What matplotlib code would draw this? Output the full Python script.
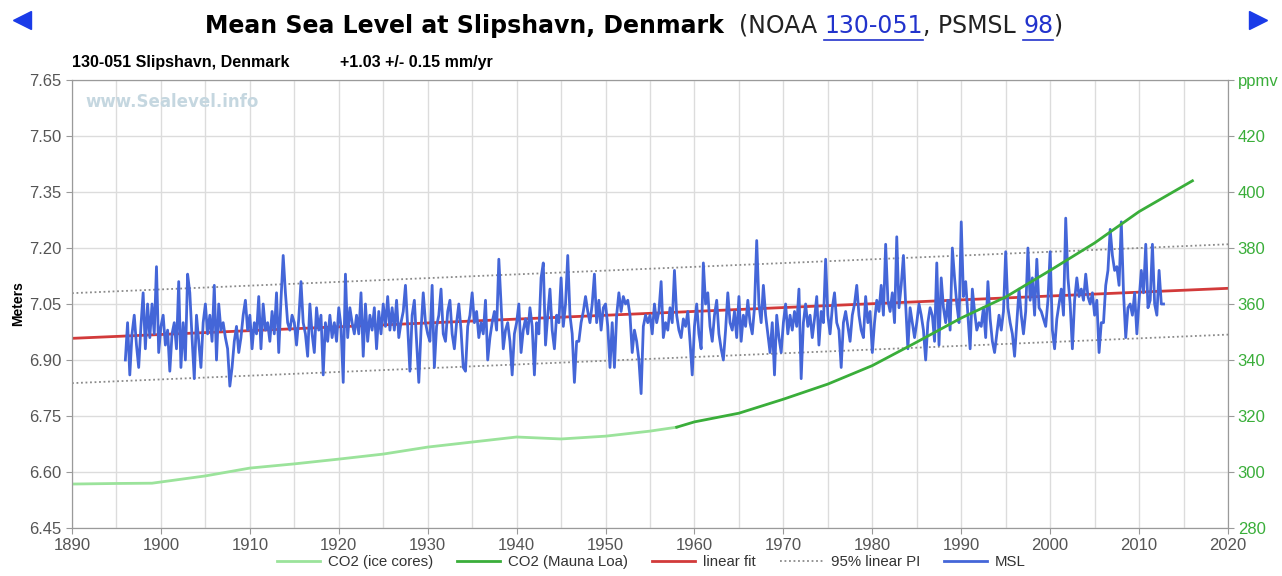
import matplotlib
matplotlib.use("Agg")
import matplotlib.pyplot as plt
from matplotlib.lines import Line2D
import numpy as np

# --- data ---
msl_start = 1896.0  # quarterly values, metres
msl = [
    6.90, 7.00, 6.86, 6.97,  7.02, 6.94, 6.88, 6.99,  7.08, 6.93, 7.05, 6.96,  # 1896-98
    7.05, 6.97, 7.15, 6.92,  6.99, 7.02, 6.94, 6.98,  6.87, 6.97, 7.00, 6.93,  # 1899-01
    7.11, 6.88, 7.00, 6.90,  7.13, 7.08, 6.96, 6.85,  7.02, 6.95, 6.88, 7.00,  # 1902-04
    7.05, 6.97, 7.02, 6.95,  7.10, 6.90, 7.05, 6.98,  7.00, 6.96, 6.93, 6.83,  # 1905-07
    6.88, 6.95, 6.99, 6.92,  6.96, 7.02, 7.06, 6.98,  7.02, 6.93, 7.00, 6.97,  # 1908-10
    7.07, 6.93, 7.05, 6.98,  7.00, 6.95, 7.03, 6.97,  7.08, 6.92, 7.06, 7.18,  # 1911-13
    7.08, 7.00, 6.98, 7.02,  7.00, 6.94, 7.01, 7.11,  7.00, 6.97, 6.91, 7.05,  # 1914-16
    6.97, 6.92, 7.04, 6.98,  7.02, 6.86, 7.00, 6.95,  7.02, 6.96, 7.00, 6.95,  # 1917-19
    7.04, 6.99, 6.84, 7.13,  6.96, 7.04, 7.00, 6.97,  7.02, 6.97, 7.08, 6.91,  # 1920-22
    7.05, 6.95, 7.02, 6.98,  7.04, 6.93, 7.03, 6.97,  7.05, 6.99, 7.07, 6.98,  # 1923-25
    7.04, 6.98, 7.06, 6.96,  7.00, 7.03, 7.10, 6.99,  6.87, 7.02, 7.06, 6.95,  # 1926-28
    6.84, 6.98, 7.08, 7.00,  6.97, 6.95, 7.10, 6.88,  6.99, 7.02, 7.09, 6.97,  # 1929-31
    6.95, 7.03, 7.06, 6.97,  6.93, 7.00, 7.05, 6.98,  6.88, 6.87, 6.99, 7.02,  # 1932-34
    7.08, 7.00, 7.03, 6.96,  7.00, 6.97, 7.06, 6.90,  6.96, 7.00, 7.03, 6.98,  # 1935-37
    7.17, 7.05, 6.93, 6.98,  7.00, 6.95, 6.86, 6.97,  7.00, 7.05, 6.92, 6.98,  # 1938-40
    7.01, 6.97, 7.04, 6.99,  6.86, 7.00, 6.97, 7.12,  7.16, 6.94, 7.02, 7.09,  # 1941-43
    6.98, 6.93, 7.02, 7.00,  7.12, 6.99, 7.05, 7.18,  7.02, 6.97, 6.84, 6.95,  # 1944-46
    6.95, 7.00, 7.03, 7.07,  7.03, 7.00, 7.05, 7.13,  7.00, 7.06, 6.98, 7.04,  # 1947-49
    7.05, 6.99, 6.88, 7.00,  6.88, 7.02, 7.08, 7.03,  7.07, 7.05, 7.06, 7.02,  # 1950-52
    6.92, 6.98, 6.95, 6.90,  6.81, 6.99, 7.02, 7.00,  7.02, 6.97, 7.05, 7.00,  # 1953-55
    7.03, 7.11, 6.96, 7.00,  6.98, 7.04, 7.00, 7.14,  7.02, 6.98, 6.96, 7.01,  # 1956-58
    6.99, 7.03, 6.95, 6.86,  6.99, 7.05, 6.97, 6.93,  7.16, 7.05, 7.08, 6.99,  # 1959-61
    6.95, 7.02, 7.06, 6.97,  6.93, 6.90, 6.98, 7.08,  7.00, 6.98, 7.03, 6.96,  # 1962-64
    7.07, 6.95, 7.02, 6.99,  7.06, 7.00, 6.97, 7.04,  7.22, 7.05, 7.00, 7.10,  # 1965-67
    7.02, 6.97, 6.92, 7.00,  6.86, 7.02, 6.96, 6.92,  7.00, 7.05, 6.97, 7.02,  # 1968-70
    6.98, 7.03, 6.99, 7.09,  6.85, 7.00, 7.05, 6.99,  7.02, 6.96, 7.01, 7.07,  # 1971-73
    6.94, 7.03, 7.00, 7.17,  7.02, 6.97, 7.04, 7.08,  7.00, 6.98, 6.88, 7.00,  # 1974-76
    7.03, 6.99, 6.95, 7.02,  7.05, 7.10, 7.02, 6.98,  6.96, 7.07, 7.00, 7.03,  # 1977-79
    6.92, 7.00, 7.06, 7.03,  7.10, 7.02, 7.21, 7.06,  7.03, 7.08, 7.00, 7.23,  # 1980-82
    7.04, 7.10, 7.18, 7.05,  6.93, 7.04, 7.00, 6.96,  7.00, 7.05, 7.02, 6.98,  # 1983-85
    6.90, 7.00, 7.04, 7.02,  6.95, 7.16, 6.94, 7.12,  7.04, 7.00, 7.06, 6.98,  # 1986-88
    7.20, 7.12, 7.05, 7.00,  7.27, 7.07, 7.11, 7.02,  6.93, 7.09, 7.03, 6.98,  # 1989-91
    7.00, 6.99, 7.04, 6.96,  7.11, 7.01, 6.95, 6.92,  6.97, 7.02, 6.98, 7.03,  # 1992-94
    7.19, 7.04, 7.00, 6.97,  6.91, 7.00, 7.09, 7.02,  6.97, 7.03, 7.20, 7.06,  # 1995-97
    7.12, 7.02, 7.17, 7.04,  7.03, 7.01, 6.99, 7.06,  7.19, 6.98, 6.93, 7.01,  # 1998-00
    7.05, 7.09, 7.02, 7.28,  7.12, 7.05, 6.93, 7.06,  7.12, 7.07, 7.09, 7.06,  # 2001-03
    7.13, 7.07, 7.05, 7.08,  7.02, 7.06, 6.92, 7.00,  7.00, 7.10, 7.14, 7.25,  # 2004-06
    7.18, 7.14, 7.15, 7.10,  7.27, 7.08, 6.96, 7.04,  7.05, 7.02, 7.08, 6.97,  # 2007-09
    7.06, 7.14, 7.08, 7.21,  7.04, 7.06, 7.21, 7.05,  7.02, 7.14, 7.05, 7.05,  # 2010-12
]

fit_years = [1890, 2020]
fit_vals = [6.958, 7.092]
pi_upper = [7.079, 7.210]
pi_lower = [6.838, 6.968]

ice_years = [1890, 1895, 1899, 1905, 1910, 1915, 1920, 1925, 1930, 1935,
             1940, 1945, 1950, 1955, 1958]
ice_ppm = [295.7, 295.9, 296.0, 298.6, 301.4, 302.9, 304.6, 306.4, 308.9,
           310.7, 312.5, 311.8, 312.8, 314.6, 316.0]

ml_years = [1958, 1960, 1965, 1970, 1975, 1980, 1985, 1990, 1995, 2000,
            2005, 2010, 2016]
ml_ppm = [316.0, 317.9, 321.0, 326.0, 331.4, 338.0, 346.4, 355.0, 362.5,
          372.0, 381.8, 393.0, 404.0]

left_ticks = [6.45, 6.60, 6.75, 6.90, 7.05, 7.20, 7.35, 7.50, 7.65]
right_ticks = [280, 300, 320, 340, 360, 380, 400, 420, 440]
right_labels = ['280', '300', '320', '340', '360', '380', '400', '420', 'ppmv']

# --- figure ---
W, H = 1282, 576
fig = plt.figure(figsize=(W / 100, H / 100), dpi=100)
ax = fig.add_axes([72 / W, 1 - 528 / H, (1228 - 72) / W, (528 - 80) / H])
ax2 = ax.twinx()

blue = '#4466d8'
green_light = '#9be39b'
green = '#3aae3a'
red = '#d23a3a'
tick_col = '#555555'
pi_col = '#8a8a8a'
pi_ls = (0, (1, 1.5))

msl_t = msl_start + np.arange(len(msl)) / 4.0
ax.plot(fit_years, pi_upper, color=pi_col, ls=pi_ls, lw=1.3, zorder=2)
ax.plot(fit_years, pi_lower, color=pi_col, ls=pi_ls, lw=1.3, zorder=2)
ax.plot(fit_years, fit_vals, color=red, lw=2, zorder=2)
ax.plot(msl_t, msl, color=blue, lw=2.0, zorder=3)

ax2.plot(ice_years, ice_ppm, color=green_light, lw=2)
ax2.plot(ml_years, ml_ppm, color=green, lw=2)

ax.set_xlim(1890, 2020)
ax.set_ylim(6.45, 7.65)
ax2.set_ylim(280, 440)

ax.set_xticks(np.arange(1890, 2021, 10))
ax.set_xticks(np.arange(1895, 2020, 10), minor=True)
ax.set_yticks(left_ticks)
ax.set_yticklabels(['%.2f' % v for v in left_ticks])
ax2.set_yticks(right_ticks)
ax2.set_yticklabels(right_labels)

ax.grid(True, which='both', axis='x', color='#dcdcdc', lw=1)
ax.grid(True, which='major', axis='y', color='#dcdcdc', lw=1)
ax.set_axisbelow(True)

for a in (ax, ax2):
    for s in a.spines.values():
        s.set_color('#9a9a9a')
ax.tick_params(axis='both', which='both', length=4, color='#9a9a9a',
               labelcolor=tick_col, labelsize=12)
ax.tick_params(axis='x', which='minor', length=0)
ax2.tick_params(axis='y', length=4, color='#9a9a9a', labelcolor=green,
                labelsize=12, pad=3)
for lab in ax.get_xticklabels() + ax.get_yticklabels() + ax2.get_yticklabels():
    lab.set_family('Liberation Sans')

ax.set_ylabel('Meters', fontsize=10, fontweight='bold', family='Liberation Sans',
              labelpad=3)

# watermark
ax.text(1891.5, 7.615, 'www.Sealevel.info', color='#c5d7e0', fontsize=12,
        fontweight='bold', va='top', ha='left')

# subtitle above plot
fig.text(72 / W, 1 - 67 / H, '130-051 Slipshavn, Denmark', fontsize=11.5,
         fontweight='bold', family='Liberation Sans')
fig.text(340 / W, 1 - 67 / H, '+1.03 +/- 0.15 mm/yr', fontsize=11.5,
         fontweight='bold', family='Liberation Sans')

# title made of several pieces, chained left to right
fig.canvas.draw()
renderer = fig.canvas.get_renderer()
link = '#2233cc'
pieces = [
    ('Mean Sea Level at Slipshavn, Denmark', 'bold', 'black', False),
    ('  (NOAA ', 'normal', '#222222', False),
    ('130-051', 'normal', link, True),
    (', PSMSL ', 'normal', '#222222', False),
    ('98', 'normal', link, True),
    (')', 'normal', '#222222', False),
]
x = 205
ty = 1 - 33 / H
for txt, wt, col, ul in pieces:
    t = fig.text(x / W, ty, txt.replace(' ', '\u00a0'), fontsize=17,
                 fontweight=wt, color=col, family='DejaVu Sans', va='baseline')
    bb = t.get_window_extent(renderer)
    if ul:
        yl = (bb.y0 - 2) / H
        fig.add_artist(Line2D([bb.x0 / W, bb.x1 / W], [yl, yl],
                              transform=fig.transFigure, color=col, lw=1.2))
    x = bb.x1

# navigation arrows
fig.add_artist(Line2D([22 / W], [1 - 20 / H], marker='<', markersize=13,
                      color='#1a3be8', transform=fig.transFigure))
fig.add_artist(Line2D([1258 / W], [1 - 20 / H], marker='>', markersize=13,
                      color='#1a3be8', transform=fig.transFigure))

# legend
handles = [
    Line2D([], [], color=green_light, lw=2),
    Line2D([], [], color=green, lw=2),
    Line2D([], [], color=red, lw=2),
    Line2D([], [], color=pi_col, ls=pi_ls, lw=1.3),
    Line2D([], [], color=blue, lw=2),
]
labels = ['CO2 (ice cores)', 'CO2 (Mauna Loa)', 'linear fit', '95% linear PI', 'MSL']
leg = fig.legend(handles, labels, loc='lower center', ncol=5, frameon=False,
                 bbox_to_anchor=(0.508, -0.012), handlelength=2.9,
                 handletextpad=0.5, columnspacing=1.6,
                 prop={'family': 'Liberation Sans', 'size': 10.8})
for t in leg.get_texts():
    t.set_color('#333333')

fig.savefig('out.png', dpi=100)
